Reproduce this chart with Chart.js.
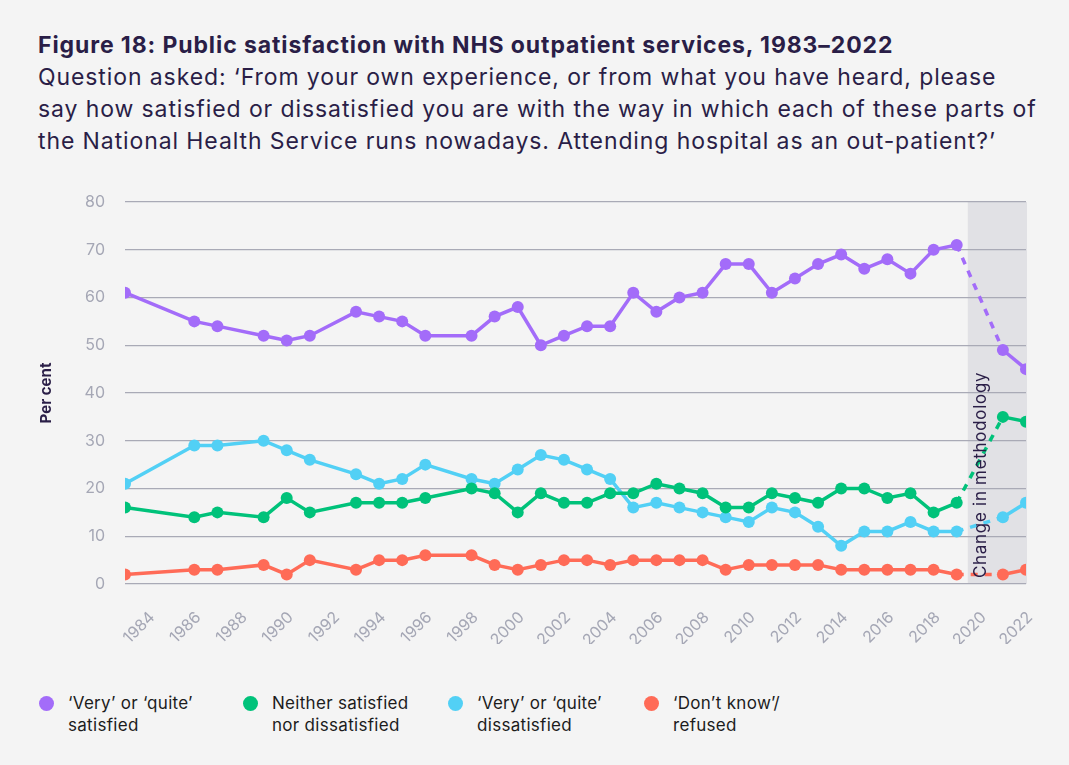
<!DOCTYPE html>
<html lang="en">
<head>
<meta charset="UTF-8">
<title>Figure 18: Public satisfaction with NHS outpatient services</title>
<script src="https://cdn.jsdelivr.net/npm/chart.js@4.4.0/dist/chart.umd.min.js"></script>
<style>
    body { margin: 0; background: #f4f4f4; width: 1069px; height: 765px; overflow: hidden;
           position: relative; font-family: Inter, "Noto Sans", sans-serif; }
    #heading { position: absolute; left: 38px; top: 29px; color: #2a1e47; font-size: 23px;
               letter-spacing: 0.9px; line-height: 32px; white-space: nowrap; }
    #heading b { font-weight: 700; }
    #wrap { position: absolute; left: 0; top: 0; width: 1069px; height: 660px; }
    .item { position: absolute; top: 692px; color: #1c1c1c; font-size: 17px; letter-spacing: 0.3px;
            line-height: 22px; }
    .item i { position: absolute; left: -29px; top: 4px; width: 15px; height: 15px; border-radius: 50%; }
</style>
</head>
<body>
<div id="heading">
    <b>Figure 18: Public satisfaction with NHS outpatient services, 1983–2022</b><br>
    Question asked: ‘From your own experience, or from what you have heard, please<br>
    say how satisfied or dissatisfied you are with the way in which each of these parts of<br>
    the National Health Service runs nowadays. Attending hospital as an out-patient?’
</div>
<div id="wrap"><canvas id="myChart"></canvas></div>
<div id="legend"></div>

<script>
// survey years (no survey in 1984, 1985, 1988, 1992, 1997, 2020)
const years = [1983, 1986, 1987, 1989, 1990, 1991, 1993, 1994, 1995, 1996, 1998, 1999, 2000,
    2001, 2002, 2003, 2004, 2005, 2006, 2007, 2008, 2009, 2010, 2011, 2012, 2013, 2014, 2015,
    2016, 2017, 2018, 2019, 2021, 2022];
const satisfied = [61, 55, 54, 52, 51, 52, 57, 56, 55, 52, 52, 56, 58, 50, 52, 54, 54, 61, 57,
    60, 61, 67, 67, 61, 64, 67, 69, 66, 68, 65, 70, 71, 49, 45];
const neither = [16, 14, 15, 14, 18, 15, 17, 17, 17, 18, 20, 19, 15, 19, 17, 17, 19, 19, 21,
    20, 19, 16, 16, 19, 18, 17, 20, 20, 18, 19, 15, 17, 35, 34];
const dissatisfied = [21, 29, 29, 30, 28, 26, 23, 21, 22, 25, 22, 21, 24, 27, 26, 24, 22, 16,
    17, 16, 15, 14, 13, 16, 15, 12, 8, 11, 11, 13, 11, 11, 14, 17];
const dontKnow = [2, 3, 3, 4, 2, 5, 3, 5, 5, 6, 6, 4, 3, 4, 5, 5, 4, 5, 5, 5, 5, 3, 4, 4, 4, 4,
    3, 3, 3, 3, 3, 2, 2, 3];

const seriesLabels = ['‘Very’ or ‘quite’\nsatisfied', 'Neither satisfied\nnor dissatisfied',
    '‘Very’ or ‘quite’\ndissatisfied', '‘Don’t know’/\nrefused'];
const seriesColours = ['#a36cf9', '#00c27a', '#52d0f5', '#ff6b57'];
const methodChangeYear = 2019.48;   // grey band starts here
const lastBeforeChange = 2019;

const dark = '#2a1e47';
const grey = '#a5a7b5';

function points(values) {
    return years.map((y, i) => ({ x: y, y: values[i] }));
}

// legend in html so the labels can wrap on two lines
const legendX = [68, 272, 477, 673];
const legend = document.getElementById('legend');
seriesLabels.forEach((lab, i) => {
    const d = document.createElement('div');
    d.className = 'item';
    d.style.left = legendX[i] + 'px';
    d.innerHTML = '<i style="background:' + seriesColours[i] + '"></i>' + lab.replace('\n', '<br>');
    legend.appendChild(d);
});

const methodBand = {
    id: 'methodBand',
    beforeDraw(chart) {
        const { ctx, chartArea, scales } = chart;
        const x0 = scales.x.getPixelForValue(methodChangeYear);
        ctx.save();
        ctx.fillStyle = '#e1e1e5';
        ctx.fillRect(x0, chartArea.top, chartArea.right + 1 - x0, chartArea.bottom - chartArea.top);
        ctx.restore();
    },
    afterDatasetsDraw(chart) {
        const { ctx, chartArea, scales } = chart;
        const x0 = scales.x.getPixelForValue(methodChangeYear);
        ctx.save();
        ctx.translate(x0 + 13, chartArea.bottom - 6);
        ctx.rotate(-Math.PI / 2);
        ctx.fillStyle = dark;
        ctx.font = '17px Inter, "Noto Sans", sans-serif';
        ctx.letterSpacing = '0.7px';
        ctx.textAlign = 'left';
        ctx.textBaseline = 'middle';
        ctx.fillText('Change in methodology', 0, 0);
        ctx.restore();
    }
};

const datasets = [satisfied, neither, dissatisfied, dontKnow].map((vals, i) => ({
    label: seriesLabels[i].replace('\n', ' '),
    data: points(vals),
    borderColor: seriesColours[i],
    backgroundColor: seriesColours[i],
    borderWidth: 3.5,
    pointRadius: 6,
    pointHoverRadius: 6,
    pointBorderWidth: 0,
    tension: 0,
    segment: {
        borderDash: ctx => ctx.p0.parsed.x === lastBeforeChange ? [7, 7] : undefined
    }
}));

new Chart(document.getElementById('myChart'), {
    type: 'line',
    data: { datasets: datasets },
    plugins: [methodBand],
    options: {
        responsive: true,
        maintainAspectRatio: false,
        animation: false,
        layout: { padding: { top: 202, left: 30, right: 43, bottom: 16 } },
        plugins: { legend: { display: false }, tooltip: { enabled: false } },
        scales: {
            x: {
                type: 'linear',
                min: 1983,
                max: 2022,
                afterFit: s => { s.height = 60; },
                grid: { display: false },
                border: { display: false },
                ticks: {
                    stepSize: 2,
                    includeBounds: false,
                    autoSkip: false,
                    minRotation: 45,
                    maxRotation: 45,
                    padding: 16,
                    labelOffset: 4,
                    color: grey,
                    font: { family: 'Inter', size: 16 },
                    callback: v => String(v)
                }
            },
            y: {
                min: 0,
                max: 80,
                afterFit: s => { s.width = 95; },
                border: { display: false },
                grid: { color: '#a9aab6', lineWidth: 1.3, drawTicks: false },
                ticks: {
                    stepSize: 10,
                    padding: 20,
                    color: grey,
                    font: { family: 'Inter', size: 16 }
                },
                title: {
                    display: true,
                    text: 'Per cent',
                    color: dark,
                    padding: { top: 7, bottom: 0 },
                    font: { family: 'Inter', size: 15, weight: 'bold' }
                }
            }
        }
    }
});
</script>
</body>
</html>
